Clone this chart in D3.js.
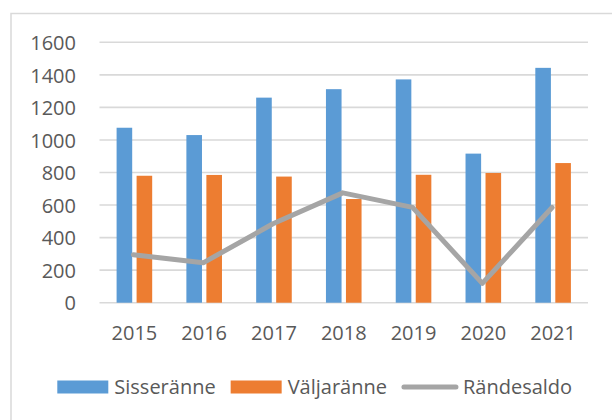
<!DOCTYPE html>
<html>
<head>
<meta charset="utf-8">
<script src="https://cdn.jsdelivr.net/npm/d3@7"></script>
<style>
  html, body { margin: 0; padding: 0; background: #fff; }
  svg { display: block; }
  text { font-family: "Open Sans", Lato, sans-serif; fill: #595959; }
</style>
</head>
<body>
<svg id="chart" width="612" height="420"></svg>
<script>
// Migration per year
const years = ["2015", "2016", "2017", "2018", "2019", "2020", "2021"];
const sisseranne = [1075, 1030, 1260, 1312, 1372, 916, 1443];
const valjaranne = [780, 785, 775, 637, 786, 797, 858];
const randesaldo = [295, 245, 485, 675, 586, 119, 585];
const yTicks = [0, 200, 400, 600, 800, 1000, 1200, 1400, 1600];
const seriesNames = ["Sisseränne", "Väljaränne", "Rändesaldo"];
const colors = ["#5b9bd5", "#ed7d31", "#a5a5a5"];

const FONT = "'Open Sans', Lato, sans-serif";
const svg = d3.select("#chart");

// chart frame (continues past the right and bottom edges)
svg.append("rect")
  .attr("x", 11).attr("y", 13.5)
  .attr("width", 640).attr("height", 440)
  .attr("fill", "none")
  .attr("stroke", "#d9d9d9")
  .attr("stroke-width", 1.5);

const plot = { left: 99.5, right: 588, top: 42.3, bottom: 302.7 };

const y = d3.scaleLinear().domain([0, 1600]).range([plot.bottom, plot.top]);
const x0 = d3.scaleBand().domain(years).range([plot.left, plot.right])
  .paddingInner(0.49).paddingOuter(0.245);
const x1 = d3.scaleBand().domain([0, 1]).range([0, x0.bandwidth()]).paddingInner(0.22);

// horizontal gridlines
svg.append("g")
  .selectAll("line")
  .data(yTicks)
  .join("line")
  .attr("x1", plot.left).attr("x2", plot.right)
  .attr("y1", d => y(d)).attr("y2", d => y(d))
  .attr("stroke", "#d9d9d9")
  .attr("stroke-width", 1.6);

// y axis labels
const yAxis = d3.axisLeft(y).tickValues(yTicks).tickFormat(d3.format("d"))
  .tickSize(0).tickPadding(0);
const gy = svg.append("g").attr("transform", "translate(76,0)").call(yAxis);
gy.select(".domain").remove();
gy.selectAll("text")
  .attr("font-family", FONT)
  .attr("font-size", 20)
  .attr("fill", "#595959")
  .attr("dy", "0.36em");

// x axis labels
const xAxis = d3.axisBottom(x0).tickSize(0).tickPadding(0);
const gx = svg.append("g").attr("transform", "translate(0,326)").call(xAxis);
gx.select(".domain").remove();
gx.selectAll("text")
  .attr("font-family", FONT)
  .attr("font-size", 20)
  .attr("fill", "#595959")
  .attr("dy", "0.72em");

// bars
const barSeries = [sisseranne, valjaranne];
barSeries.forEach((vals, si) => {
  svg.append("g")
    .selectAll("rect")
    .data(vals)
    .join("rect")
    .attr("x", (d, i) => x0(years[i]) + x1(si))
    .attr("width", x1.bandwidth())
    .attr("y", d => y(d))
    .attr("height", d => y(0) - y(d))
    .attr("fill", colors[si]);
});

// balance line
const line = d3.line()
  .x((d, i) => x0(years[i]) + x0.bandwidth() / 2 - 1)
  .y(d => y(d));
svg.append("path")
  .datum(randesaldo)
  .attr("d", line)
  .attr("fill", "none")
  .attr("stroke", colors[2])
  .attr("stroke-width", 5)
  .attr("stroke-linejoin", "round")
  .attr("stroke-linecap", "round");

// legend
const legend = svg.append("g");
let lx = 57.3;
const ly = 387;
seriesNames.forEach((name, i) => {
  if (i < 2) {
    legend.append("rect")
      .attr("x", lx).attr("y", ly - 6.5)
      .attr("width", 51).attr("height", 13)
      .attr("fill", colors[i]);
  } else {
    legend.append("line")
      .attr("x1", lx + 2).attr("x2", lx + 54)
      .attr("y1", ly).attr("y2", ly)
      .attr("stroke", colors[i])
      .attr("stroke-width", 5)
      .attr("stroke-linecap", "round");
  }
  const t = legend.append("text")
    .attr("x", lx + (i < 2 ? 57 : 61))
    .attr("y", ly)
    .attr("dy", "0.36em")
    .attr("font-family", FONT)
    .attr("font-size", 20)
    .text(name);
  lx = lx + (i < 2 ? 57 : 61) + t.node().getComputedTextLength() + 15;
});
</script>
</body>
</html>
